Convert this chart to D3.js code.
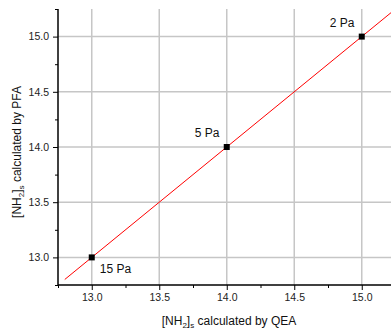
<!DOCTYPE html>
<html><head><meta charset="utf-8">
<script src="https://cdn.jsdelivr.net/npm/d3@7"></script>
<style>
html,body{margin:0;padding:0;background:#fff;}
svg{display:block;font-family:"Liberation Sans",Arial,sans-serif;}
</style></head>
<body><svg id="c" width="391" height="331"></svg>
<script>
const qea = [13.0, 14.0, 15.0];
const pfa = [13.0, 14.0, 15.0];
const pressureLabels = ["15 Pa", "5 Pa", "2 Pa"];
const fitX = [12.8, 15.3];
const fitSlope = 1.0, fitIntercept = 0.0;
const majorTicks = [13.0, 13.5, 14.0, 14.5, 15.0];
const minorTicks = [12.75, 13.25, 13.75, 14.25, 14.75, 15.25];

const svg = d3.select("#c");
const L = 58, R = 395.5, T = 9, B = 285;
const x = d3.scaleLinear().domain([12.75, 15.25]).range([L, R]);
const y = d3.scaleLinear().domain([12.75, 15.25]).range([B, T]);

// grid
const grid = svg.append("g");
grid.selectAll("line.v").data(majorTicks).join("line")
  .attr("x1", d => x(d)).attr("x2", d => x(d)).attr("y1", T).attr("y2", B)
  .attr("stroke", "#c6c6c6").attr("stroke-width", 1.5);
grid.selectAll("line.h").data(majorTicks).join("line")
  .attr("y1", d => y(d)).attr("y2", d => y(d)).attr("x1", L).attr("x2", 391)
  .attr("stroke", "#c6c6c6").attr("stroke-width", 1.5);

// axes
const xAxis = d3.axisBottom(x).tickValues(majorTicks).tickFormat(d3.format(".1f")).tickSize(5).tickPadding(4);
const xMinor = d3.axisBottom(x).tickValues(minorTicks).tickFormat("").tickSize(3);
const yAxis = d3.axisLeft(y).tickValues(majorTicks).tickFormat(d3.format(".1f")).tickSize(5).tickPadding(4);
const yMinor = d3.axisLeft(y).tickValues(minorTicks).tickFormat("").tickSize(3);

function style(g){
  g.select(".domain").remove();
  g.selectAll("line").attr("stroke", "#000").attr("stroke-width", 1);
  g.selectAll("text").attr("fill", "#222").style("font-size", "10.5px").style("font-family", "'Liberation Sans',Arial,sans-serif");
}
svg.append("g").attr("transform", `translate(0,${B})`).call(xAxis).call(style);
svg.append("g").attr("transform", `translate(0,${B})`).call(xMinor).call(style);
svg.append("g").attr("transform", `translate(${L},0)`).call(yAxis).call(style);
svg.append("g").attr("transform", `translate(${L},0)`).call(yMinor).call(style);
svg.append("line").attr("x1", L).attr("x2", 391).attr("y1", B).attr("y2", B).attr("stroke", "#000").attr("stroke-width", 1.5);
svg.append("line").attr("x1", L).attr("x2", L).attr("y1", T).attr("y2", B).attr("stroke", "#000").attr("stroke-width", 1.5);

// fit line
svg.append("line")
  .attr("x1", x(fitX[0])).attr("y1", y(fitIntercept + fitSlope * fitX[0]))
  .attr("x2", x(fitX[1])).attr("y2", y(fitIntercept + fitSlope * fitX[1]))
  .attr("stroke", "#ff0000").attr("stroke-width", 1);

// points
svg.selectAll("rect.pt").data(qea).join("rect")
  .attr("x", (d) => x(d) - 3).attr("y", (d, i) => y(pfa[i]) - 3)
  .attr("width", 6).attr("height", 6).attr("fill", "#000");

// labels
const offs = [[8, 16], [-32, -10], [-32, -10]];
svg.selectAll("text.pl").data(qea).join("text")
  .attr("x", (d, i) => x(d) + offs[i][0]).attr("y", (d, i) => y(pfa[i]) + offs[i][1])
  .attr("fill", "#111").style("font-size", "12px")
  .text((d, i) => pressureLabels[i]);

// x title
const xt = svg.append("text").attr("x", 229).attr("y", 325).attr("text-anchor", "middle")
  .attr("fill", "#111").style("font-size", "12px");
xt.append("tspan").text("[NH");
xt.append("tspan").text("2").style("font-size", "8px").attr("dy", 3);
xt.append("tspan").text("]").attr("dy", -3);
xt.append("tspan").text("s").style("font-size", "8px").attr("dy", 3);
xt.append("tspan").text(" calculated by QEA").attr("dy", -3);

// y title
const yt = svg.append("text").attr("transform", "translate(21,152) rotate(-90)").attr("text-anchor", "middle")
  .attr("fill", "#111").style("font-size", "12px");
yt.append("tspan").text("[NH");
yt.append("tspan").text("2").style("font-size", "8px").attr("dy", 3);
yt.append("tspan").text("]").attr("dy", -3);
yt.append("tspan").text("s").style("font-size", "8px").attr("dy", 3);
yt.append("tspan").text(" calculated by PFA").attr("dy", -3);
</script></body></html>
